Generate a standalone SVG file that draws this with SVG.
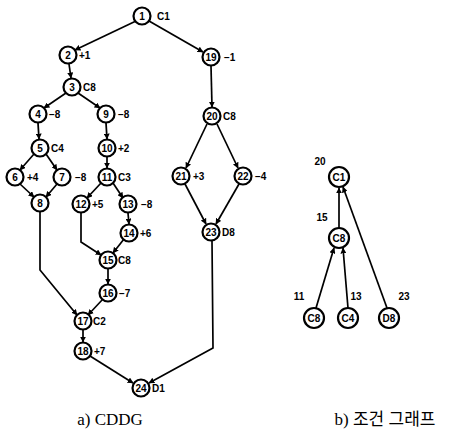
<svg xmlns="http://www.w3.org/2000/svg" width="461" height="436" viewBox="0 0 461 436">
<style>
.n circle{fill:#fff;stroke:#000;stroke-width:2.2}
.n text{font-family:"Liberation Sans",Arial,sans-serif;font-size:10px;font-weight:bold;fill:#000}
.e{fill:none;stroke:#000;stroke-width:1.7;marker-end:url(#a)}
.cap{font-family:"Liberation Serif","Noto Sans CJK KR",serif;font-size:17px;fill:#000}
</style>
<defs>
<marker id="a" viewBox="0 0 10 10" refX="9" refY="5" markerWidth="6" markerHeight="6" orient="auto" markerUnits="userSpaceOnUse">
<path d="M0,0L10,5L0,10z" fill="#000"/>
</marker>
</defs>
<rect width="461" height="436" fill="#fff"/>
<g id="connectors">
<path class="e" d="M136,21L75,50"/>
<path class="e" d="M149,21L203,52"/>
<path class="e" d="M69,64L71,78"/>
<path class="e" d="M66,93L44,108"/>
<path class="e" d="M78,93L100,108"/>
<path class="e" d="M38,123L39,139"/>
<path class="e" d="M34,154L20,170"/>
<path class="e" d="M46,154L57,170"/>
<path class="e" d="M20,184L34,197"/>
<path class="e" d="M57,184L46,197"/>
<path class="e" d="M106,123L107,139"/>
<path class="e" d="M107,157L107,168"/>
<path class="e" d="M101,183L87,198"/>
<path class="e" d="M113,183L123,198"/>
<path class="e" d="M128,213L129,224"/>
<path class="e" d="M81,213L81,242L101,255"/>
<path class="e" d="M124,239L113,253"/>
<path class="e" d="M108,269L108,284"/>
<path class="e" d="M103,299L88,315"/>
<path class="e" d="M40,212L40,270L77,315"/>
<path class="e" d="M83,330L83,342"/>
<path class="e" d="M90,356L133,383"/>
<path class="e" d="M211,66L212,107"/>
<path class="e" d="M207,124L186,168"/>
<path class="e" d="M217,124L238,168"/>
<path class="e" d="M185,184L206,224"/>
<path class="e" d="M239,184L216,224"/>
<path class="e" d="M212,241L213,348L149,383"/>
<path class="e" d="M339,228L339,188"/>
<path class="e" d="M387,308L343,187"/>
<path class="e" d="M316,308L334,248"/>
<path class="e" d="M348,308L343,248"/>
</g>
<g id="n1" class="n"><circle cx="142" cy="16" r="8.5"/><text x="142" y="19.5" text-anchor="middle">1</text><text x="157" y="20">C1</text></g>
<g id="n2" class="n"><circle cx="68" cy="55" r="8.5"/><text x="68" y="58.5" text-anchor="middle">2</text><text x="79" y="59">+1</text></g>
<g id="n3" class="n"><circle cx="72" cy="87" r="8.5"/><text x="72" y="90.5" text-anchor="middle">3</text><text x="83" y="91">C8</text></g>
<g id="n4" class="n"><circle cx="38" cy="114" r="8.5"/><text x="38" y="117.5" text-anchor="middle">4</text><text x="49" y="118">−8</text></g>
<g id="n5" class="n"><circle cx="40" cy="148" r="8.5"/><text x="40" y="151.5" text-anchor="middle">5</text><text x="51" y="152">C4</text></g>
<g id="n6" class="n"><circle cx="15" cy="177" r="8.5"/><text x="15" y="180.5" text-anchor="middle">6</text><text x="27" y="181">+4</text></g>
<g id="n7" class="n"><circle cx="62" cy="177" r="8.5"/><text x="62" y="180.5" text-anchor="middle">7</text><text x="75" y="181">−8</text></g>
<g id="n8" class="n"><circle cx="40" cy="203" r="8.5"/><text x="40" y="206.5" text-anchor="middle">8</text></g>
<g id="n9" class="n"><circle cx="106" cy="114" r="8.5"/><text x="106" y="117.5" text-anchor="middle">9</text><text x="118" y="118">−8</text></g>
<g id="n10" class="n"><circle cx="107" cy="148" r="8.5"/><text x="107" y="151.5" text-anchor="middle">10</text><text x="118" y="152">+2</text></g>
<g id="n11" class="n"><circle cx="107" cy="177" r="8.5"/><text x="107" y="180.5" text-anchor="middle">11</text><text x="118" y="181">C3</text></g>
<g id="n12" class="n"><circle cx="81" cy="204" r="8.5"/><text x="81" y="207.5" text-anchor="middle">12</text><text x="92" y="208">+5</text></g>
<g id="n13" class="n"><circle cx="128" cy="204" r="8.5"/><text x="128" y="207.5" text-anchor="middle">13</text><text x="141" y="208">−8</text></g>
<g id="n14" class="n"><circle cx="129" cy="233" r="8.5"/><text x="129" y="236.5" text-anchor="middle">14</text><text x="140" y="237">+6</text></g>
<g id="n15" class="n"><circle cx="108" cy="260" r="8.5"/><text x="108" y="263.5" text-anchor="middle">15</text><text x="118" y="264">C8</text></g>
<g id="n16" class="n"><circle cx="108" cy="293" r="8.5"/><text x="108" y="296.5" text-anchor="middle">16</text><text x="119" y="297">−7</text></g>
<g id="n17" class="n"><circle cx="83" cy="321" r="8.5"/><text x="83" y="324.5" text-anchor="middle">17</text><text x="93" y="325">C2</text></g>
<g id="n18" class="n"><circle cx="83" cy="351" r="8.5"/><text x="83" y="354.5" text-anchor="middle">18</text><text x="94" y="355">+7</text></g>
<g id="n19" class="n"><circle cx="211" cy="57" r="8.5"/><text x="211" y="60.5" text-anchor="middle">19</text><text x="224" y="61">−1</text></g>
<g id="n20" class="n"><circle cx="212" cy="116" r="8.5"/><text x="212" y="119.5" text-anchor="middle">20</text><text x="223" y="120">C8</text></g>
<g id="n21" class="n"><circle cx="181" cy="176" r="8.5"/><text x="181" y="179.5" text-anchor="middle">21</text><text x="193" y="180">+3</text></g>
<g id="n22" class="n"><circle cx="243" cy="176" r="8.5"/><text x="243" y="179.5" text-anchor="middle">22</text><text x="255" y="180">−4</text></g>
<g id="n23" class="n"><circle cx="211" cy="232" r="8.5"/><text x="211" y="235.5" text-anchor="middle">23</text><text x="222" y="236">D8</text></g>
<g id="n24" class="n"><circle cx="141" cy="388" r="8.5"/><text x="141" y="391.5" text-anchor="middle">24</text><text x="152" y="392">D1</text></g>
<g id="c1" class="n"><circle cx="339" cy="177" r="10"/><text x="339" y="180.5" text-anchor="middle">C1</text><text x="320" y="165" text-anchor="middle">20</text></g>
<g id="c2" class="n"><circle cx="339" cy="238" r="10"/><text x="339" y="241.5" text-anchor="middle">C8</text><text x="322" y="221" text-anchor="middle">15</text></g>
<g id="c3" class="n"><circle cx="314" cy="318" r="10"/><text x="314" y="321.5" text-anchor="middle">C8</text><text x="299" y="300" text-anchor="middle">11</text></g>
<g id="c4" class="n"><circle cx="348" cy="318" r="10"/><text x="348" y="321.5" text-anchor="middle">C4</text><text x="356" y="300" text-anchor="middle">13</text></g>
<g id="c5" class="n"><circle cx="389" cy="318" r="10"/><text x="389" y="321.5" text-anchor="middle">D8</text><text x="404" y="300" text-anchor="middle">23</text></g>
<text class="cap" x="110" y="425" text-anchor="middle">a) CDDG</text>
<text class="cap" x="385" y="425" text-anchor="middle">b) 조건 그래프</text>
</svg>
